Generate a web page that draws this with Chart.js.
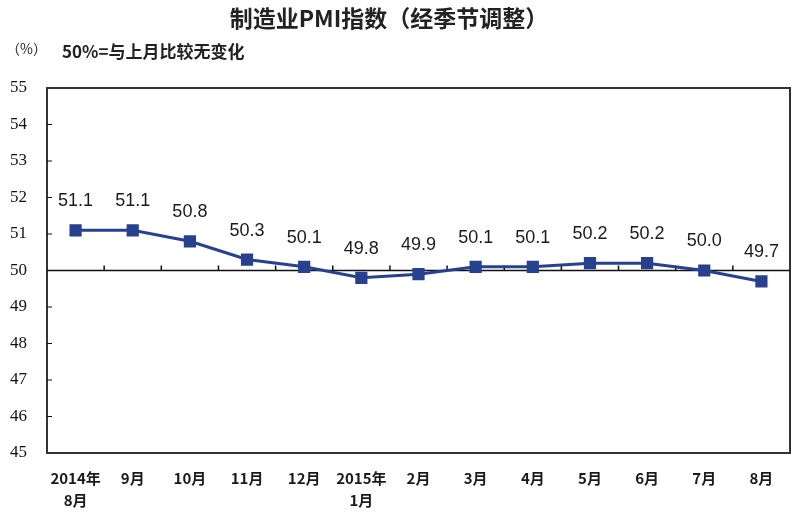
<!DOCTYPE html>
<html>
<head>
<meta charset="utf-8">
<script src="https://cdn.jsdelivr.net/npm/chart.js@4.4.0/dist/chart.umd.min.js"></script>
<style>
  body { margin: 0; background: #fff; }
  #wrap { position: relative; width: 800px; height: 516px; }
  .txt { position: absolute; font-family: "Noto Sans CJK SC", sans-serif; color: #222; white-space: nowrap; }
  #title { left: 0; width: 778px; top: 0px; text-align: center; font-size: 23px; font-weight: bold; }
  #unit { left: 6px; top: 38px; font-size: 14px; }
  #note { left: 62px; top: 38px; font-size: 17px; font-weight: bold; }
</style>
</head>
<body>
<div id="wrap">
  <canvas id="chart" width="800" height="516"></canvas>
  <div class="txt" id="title">制造业PMI指数（经季节调整）</div>
  <div class="txt" id="unit">（%）</div>
  <div class="txt" id="note">50%=与上月比较无变化</div>
</div>
<script>
const months = [['2014年', '8月'], '9月', '10月', '11月', '12月', ['2015年', '1月'], '2月', '3月', '4月', '5月', '6月', '7月', '8月'];
const pmi = [51.1, 51.1, 50.8, 50.3, 50.1, 49.8, 49.9, 50.1, 50.1, 50.2, 50.2, 50.0, 49.7];
const yMin = 45;
const yMax = 55;
const baseLine = 50;

const chart = document.querySelector("#chart").getContext('2d');

// frame, 50% line, small ticks, value labels
const framePlugin = {
    id: 'frame',
    beforeDatasetsDraw(c) {
        const { ctx, chartArea: a, scales } = c;
        const y50 = scales.y.getPixelForValue(baseLine);
        ctx.save();
        ctx.strokeStyle = '#333';
        ctx.lineWidth = 2;
        ctx.strokeRect(a.left, a.top, a.right - a.left, a.bottom - a.top);

        ctx.strokeStyle = '#111';
        ctx.lineWidth = 1.5;
        ctx.beginPath();
        ctx.moveTo(a.left, y50);
        ctx.lineTo(a.right, y50);
        // tick marks between months, on the 50 line
        for (let i = 1; i < months.length; i++) {
            const x = (scales.x.getPixelForValue(i - 1) + scales.x.getPixelForValue(i)) / 2;
            ctx.moveTo(x, y50);
            ctx.lineTo(x, y50 - 5);
        }
        ctx.stroke();

        // inward y ticks
        ctx.lineWidth = 1.2;
        ctx.beginPath();
        for (let v = yMin + 1; v < yMax; v++) {
            const y = scales.y.getPixelForValue(v);
            ctx.moveTo(a.left, y);
            ctx.lineTo(a.left + 5, y);
        }
        ctx.stroke();
        ctx.restore();
    },
    afterDatasetsDraw(c) {
        const { ctx } = c;
        const meta = c.getDatasetMeta(0);
        ctx.save();
        ctx.font = '18px "Liberation Sans", Arial, sans-serif';
        ctx.fillStyle = '#1a1a1a';
        ctx.textAlign = 'center';
        ctx.textBaseline = 'middle';
        meta.data.forEach((pt, i) => {
            ctx.fillText(pmi[i].toFixed(1), pt.x, pt.y - 29);
        });
        ctx.restore();
    }
};

new Chart(chart, {
    type: 'line',
    data: {
        labels: months,
        datasets: [
            {
                label: '制造业PMI',
                data: pmi,
                borderColor: '#27418f',
                backgroundColor: '#27418f',
                borderWidth: 3,
                pointStyle: 'rect',
                pointRadius: 6.5,
                pointHoverRadius: 6.5,
                tension: 0
            }
        ]
    },
    options: {
        responsive: false,
        animation: false,
        layout: { padding: { top: 88, right: 10, left: 0, bottom: 0 } },
        plugins: {
            legend: { display: false },
            tooltip: { enabled: false }
        },
        scales: {
            x: {
                offset: true,
                grid: { display: false, drawTicks: false },
                border: { display: false },
                afterFit: s => { s.height = 63; },
                ticks: {
                    padding: 14,
                    maxRotation: 0,
                    autoSkip: false,
                    color: '#1a1a1a',
                    font: { family: '"Noto Sans CJK SC", sans-serif', size: 15, weight: 'bold', lineHeight: 1.5 }
                }
            },
            y: {
                min: yMin,
                max: yMax,
                grid: { display: false, drawTicks: false },
                border: { display: false },
                afterFit: s => { s.width = 47; },
                ticks: {
                    stepSize: 1,
                    padding: 20,
                    color: '#111',
                    font: { family: '"Liberation Serif", serif', size: 17 }
                }
            }
        }
    },
    plugins: [framePlugin]
});
</script>
</body>
</html>
